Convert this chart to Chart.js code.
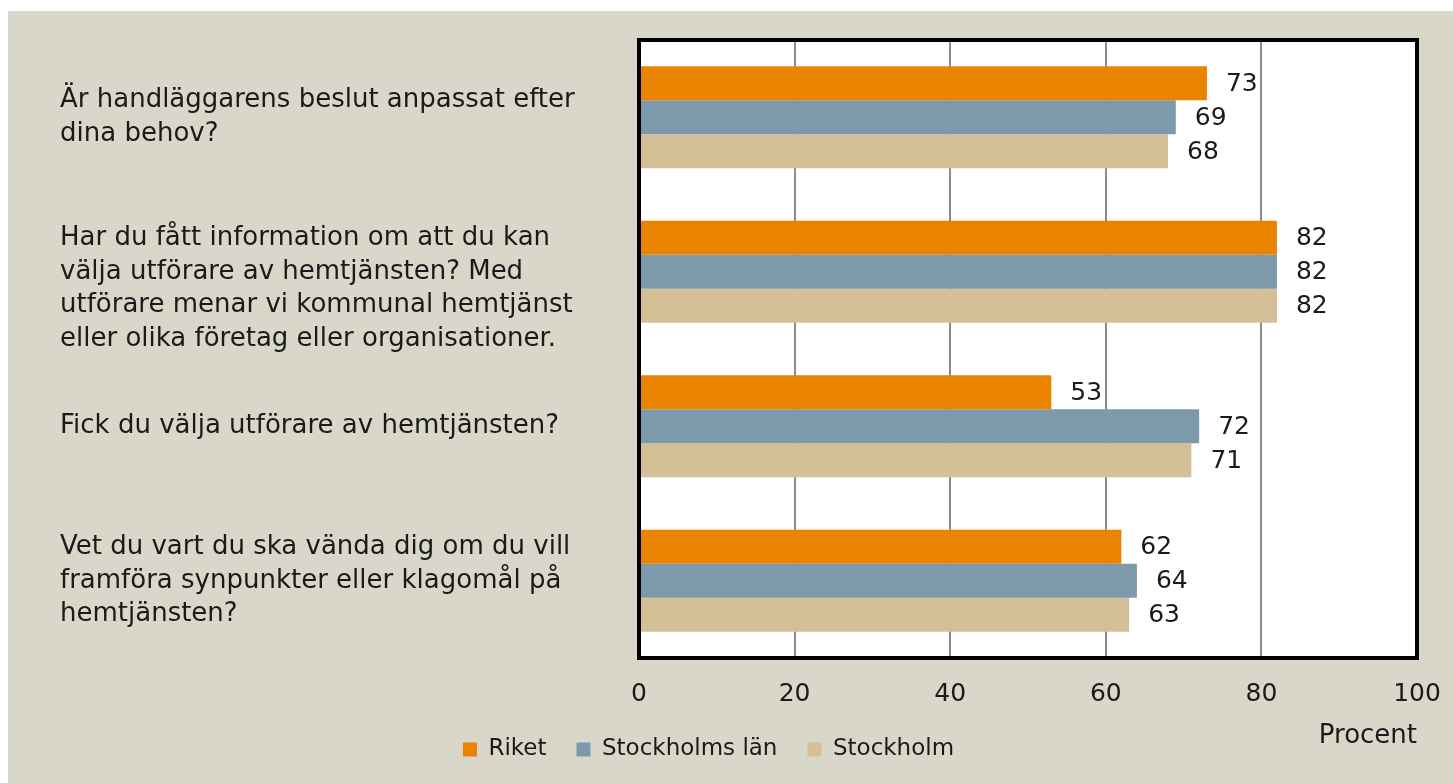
<!DOCTYPE html>
<html>
<head>
<meta charset="utf-8">
<script src="https://cdn.jsdelivr.net/npm/chart.js@4.4.0/dist/chart.umd.min.js"></script>
<style>
  html,body{margin:0;padding:0;background:#fff;}
  #wrap{position:absolute;left:8px;top:11px;width:1445px;height:772px;background:#d9d7ca;}
</style>
</head>
<body>
<div id="wrap"><canvas id="myChart"></canvas></div>
<script>
var fragor = [
  ["Är handläggarens beslut anpassat efter", "dina behov?"],
  ["", "Har du fått information om att du kan", "välja utförare av hemtjänsten? Med", "utförare menar vi kommunal hemtjänst", "eller olika företag eller organisationer."],
  ["Fick du välja utförare av hemtjänsten?"],
  ["Vet du vart du ska vända dig om du vill", "framföra synpunkter eller klagomål på", "hemtjänsten?"]
];
var riket = [73, 82, 53, 62];
var stockholmsLan = [69, 82, 72, 64];
var stockholm = [68, 82, 71, 63];
var xTicks = [0, 20, 40, 60, 80, 100];

var fontFam = "'DejaVu Sans', sans-serif";
var textColor = "#1a1a1a";

var varden = {
  id: 'varden',
  afterLayout: function(chart){
    // legenden sitter lite till vänster i originalet
    if (chart.legend) chart.legend.right -= 60;
  },
  afterDatasetsDraw: function(chart){
    var ctx = chart.ctx;
    ctx.save();
    ctx.font = "25px " + fontFam;
    ctx.fillStyle = textColor;
    ctx.textAlign = "left";
    ctx.textBaseline = "middle";
    chart.data.datasets.forEach(function(ds, i){
      chart.getDatasetMeta(i).data.forEach(function(bar, j){
        ctx.fillText(ds.data[j], bar.x + 19, bar.y + 1);
      });
    });
    ctx.restore();
  },
  afterDraw: function(chart){
    var a = chart.chartArea, ctx = chart.ctx;
    ctx.save();
    ctx.strokeStyle = "#000";
    ctx.lineWidth = 4;
    ctx.strokeRect(a.left, a.top, a.right - a.left, a.bottom - a.top);
    ctx.restore();
  }
};

var ctx = document.getElementById('myChart');
new Chart(ctx, {
  type: 'bar',
  data: {
    labels: fragor,
    datasets: [
      {label: "Riket", data: riket, backgroundColor: "#e98300"},
      {label: "Stockholms län", data: stockholmsLan, backgroundColor: "#7d9aad"},
      {label: "Stockholm", data: stockholm, backgroundColor: "#d4bf96"}
    ]
  },
  plugins: [varden, {
    id: 'vit',
    beforeDraw: function(chart){
      var a = chart.chartArea, c = chart.ctx;
      c.save(); c.fillStyle = "#fff";
      c.fillRect(a.left, a.top, a.right - a.left, a.bottom - a.top);
      c.restore();
    }
  }],
  options: {
    indexAxis: 'y',
    responsive: true,
    maintainAspectRatio: false,
    animation: false,
    categoryPercentage: 0.66,
    barPercentage: 1.0,
    layout: {padding: {left: 52, top: 29, right: 36, bottom: 12}},
    plugins: {
      tooltip: {enabled: false},
      legend: {
        position: 'bottom',
        labels: {
          font: {family: fontFam, size: 23},
          color: textColor,
          boxWidth: 14,
          boxHeight: 14,
          padding: 30
        }
      }
    },
    scales: {
      x: {
        min: 0, max: 100,
        afterBuildTicks: function(s){ s.ticks = xTicks.map(function(v){ return {value: v}; }); },
        afterFit: function(s){ s.height = 50; s.paddingLeft = 0; s.paddingRight = 0; },
        grid: {color: "#8c8c8c", lineWidth: 2, drawTicks: false},
        border: {display: false},
        ticks: {font: {family: fontFam, size: 25}, color: textColor, padding: 21},
        title: {
          display: true, text: "Procent", align: 'end',
          font: {family: fontFam, size: 26}, color: textColor,
          padding: {top: 0, bottom: -44}
        }
      },
      y: {
        afterFit: function(s){ s.width = 579; s.paddingTop = 0; s.paddingBottom = 0; },
        grid: {display: false},
        border: {display: false},
        ticks: {
          autoSkip: false,
          crossAlign: 'far',
          font: {family: fontFam, size: 26, lineHeight: 1.3},
          color: textColor
        }
      }
    }
  }
});
</script>
</body>
</html>
